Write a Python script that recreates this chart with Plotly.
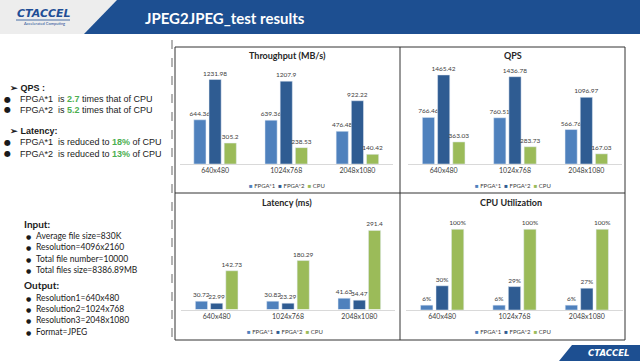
import plotly.graph_objects as go

W, H = 640, 361

categories = ["640x480", "1024x768", "2048x1080"]
series_names = ["FPGA*1", "FPGA*2", "CPU"]
series_colors = ["#4f81bd", "#2f5c92", "#9bbb59"]

throughput_fpga1 = [644.36, 639.36, 476.48]
throughput_fpga2 = [1231.98, 1207.9, 922.22]
throughput_cpu = [305.2, 238.53, 140.42]

qps_fpga1 = [766.46, 760.51, 566.76]
qps_fpga2 = [1465.42, 1436.78, 1096.97]
qps_cpu = [363.03, 283.73, 167.03]

latency_fpga1 = [30.72, 30.82, 41.63]
latency_fpga2 = [22.99, 23.29, 34.47]
latency_cpu = [142.73, 180.29, 291.4]

cpuutil_fpga1 = [6, 6, 6]
cpuutil_fpga2 = [30, 29, 27]
cpuutil_cpu = [100, 100, 100]

chart_titles = ["Throughput (MB/s)", "QPS", "Latency (ms)", "CPU Utilization"]


def X(px):
    return px / W


def Y(py):
    return 1 - py / H


FONT = "Lato"
fig = go.Figure()

charts = [
    ([throughput_fpga1, throughput_fpga2, throughput_cpu], "", "x", "y"),
    ([qps_fpga1, qps_fpga2, qps_cpu], "", "x2", "y2"),
    ([latency_fpga1, latency_fpga2, latency_cpu], "", "x3", "y3"),
    ([cpuutil_fpga1, cpuutil_fpga2, cpuutil_cpu], "%", "x4", "y4"),
]

for data, suffix, xa, ya in charts:
    for name, color, vals in zip(series_names, series_colors, data):
        fig.add_trace(go.Bar(
            x=categories, y=vals, name=name, marker_color=color,
            text=[f"{v}{suffix}" for v in vals], textposition="outside",
            textfont=dict(size=6.5, color="#404040", family=FONT),
            constraintext="none", cliponaxis=False, showlegend=False,
            xaxis=xa, yaxis=ya,
        ))

xdomains = [(179.5, 393), (408, 622), (181, 395), (406, 623)]
ydomains = [(68, 164), (68, 164), (218, 309.5), (218, 310)]
yranges = [[0, 1400], [0, 1580], [0, 337], [0, 114]]

layout_axes = {}
for i in range(4):
    s = "" if i == 0 else str(i + 1)
    layout_axes["xaxis" + s] = dict(
        domain=[X(xdomains[i][0]), X(xdomains[i][1])], anchor="y" + s,
        showline=True, linecolor="#d9d9d9", linewidth=1, ticks="",
        tickfont=dict(size=7, color="#404040", family=FONT),
        showgrid=False, fixedrange=True,
    )
    layout_axes["yaxis" + s] = dict(
        domain=[Y(ydomains[i][1]), Y(ydomains[i][0])], anchor="x" + s,
        range=yranges[i], visible=False, showgrid=False, fixedrange=True,
    )

annotations = []
title_pos = [(287, 56), (513, 56), (287, 203), (511, 203)]
legend_pos = [(287, 185), (513, 185), (285, 331), (513, 331)]
legend_text = "  ".join(
    f"<span style='color:{c}'>■</span> {n}" for n, c in zip(series_names, series_colors)
)
for (tx, ty), (lx, ly), t in zip(title_pos, legend_pos, chart_titles):
    annotations.append(dict(
        x=X(tx), y=Y(ty), xref="paper", yref="paper", text=f"<b>{t}</b>",
        showarrow=False, font=dict(size=9, color="#262626", family=FONT),
        xanchor="center", yanchor="middle",
    ))
    annotations.append(dict(
        x=X(lx), y=Y(ly), xref="paper", yref="paper", text=legend_text,
        showarrow=False, font=dict(size=6, color="#404040", family=FONT),
        xanchor="center", yanchor="middle",
    ))

# header
annotations.append(dict(
    x=X(143), y=Y(18), xref="paper", yref="paper",
    text="<b>JPEG2JPEG_test results</b>", showarrow=False,
    font=dict(size=15, color="white", family=FONT), xanchor="left", yanchor="middle",
))
annotations.append(dict(
    x=X(15), y=Y(14), xref="paper", yref="paper",
    text="<b><i>CTACCEL</i></b>", showarrow=False,
    font=dict(size=11, color="#1f4e96", family="DejaVu Sans"), xanchor="left", yanchor="middle",
))
annotations.append(dict(
    x=X(22), y=Y(23), xref="paper", yref="paper",
    text="Accelerated Computing", showarrow=False,
    font=dict(size=4, color="#1f4e96", family=FONT), xanchor="left", yanchor="middle",
))
annotations.append(dict(
    x=X(608), y=Y(353), xref="paper", yref="paper",
    text="<b><i>CTACCEL</i></b>", showarrow=False,
    font=dict(size=8.5, color="white", family="DejaVu Sans"), xanchor="center", yanchor="middle",
))

GREEN = "#4caf50"
SANS = "Liberation Sans"
left_lines = [
    (8, 88, "<b>➢ QPS :</b>"),
    (18, 99, f"FPGA*1  is <span style='color:{GREEN}'><b>2.7</b></span> times that of CPU"),
    (18, 110, f"FPGA*2  is <span style='color:{GREEN}'><b>5.2</b></span> times that of CPU"),
    (8, 131, "<b>➢ Latency:</b>"),
    (18, 142, f"FPGA*1  is reduced to <span style='color:{GREEN}'><b>18%</b></span> of CPU"),
    (18, 154, f"FPGA*2  is reduced to <span style='color:{GREEN}'><b>13%</b></span> of CPU"),
]
for x, y, t in left_lines:
    annotations.append(dict(
        x=X(x), y=Y(y), xref="paper", yref="paper", text=t, showarrow=False,
        font=dict(size=9, color="#1a1a1a", family=SANS), xanchor="left", yanchor="middle",
    ))
for y in (99, 110, 142, 154):
    annotations.append(dict(
        x=X(2), y=Y(y), xref="paper", yref="paper", text="●", showarrow=False,
        font=dict(size=8, color="#1a1a1a", family="DejaVu Sans"), xanchor="left", yanchor="middle",
    ))

info_heads = [(22, 224, "Input:"), (22, 285, "Output:")]
info_lines = [
    (236, "Average file size=830K"),
    (247, "Resolution=4096x2160"),
    (259, "Total file number=10000"),
    (270, "Total files size=8386.89MB"),
    (298, "Resolution1=640x480"),
    (309, "Resolution2=1024x768"),
    (320, "Resolution3=2048x1080"),
    (332, "Format=JPEG"),
]
for x, y, t in info_heads:
    annotations.append(dict(
        x=X(x), y=Y(y), xref="paper", yref="paper", text=f"<b>{t}</b>", showarrow=False,
        font=dict(size=10, color="#1a1a1a", family=FONT), xanchor="left", yanchor="middle",
    ))
for y, t in info_lines:
    annotations.append(dict(
        x=X(34), y=Y(y), xref="paper", yref="paper", text=t, showarrow=False,
        font=dict(size=8.5, color="#1a1a1a", family=FONT), xanchor="left", yanchor="middle",
    ))
    annotations.append(dict(
        x=X(24), y=Y(y), xref="paper", yref="paper", text="●", showarrow=False,
        font=dict(size=6, color="#1a1a1a", family="DejaVu Sans"), xanchor="left", yanchor="middle",
    ))


def path(points):
    return "M " + " L ".join(f"{X(px):.5f},{Y(py):.5f}" for px, py in points) + " Z"


shapes = [
    dict(type="rect", xref="paper", yref="paper", x0=0, x1=1, y0=Y(34), y1=1,
         fillcolor="#ededed", line=dict(width=0), layer="below"),
    dict(type="path", xref="paper", yref="paper",
         path=path([(117, 0), (640, 0), (640, 34), (84, 34)]),
         fillcolor="#1d4f91", line=dict(width=0), layer="below"),
    dict(type="line", xref="paper", yref="paper", x0=X(16), x1=X(70), y0=Y(20), y1=Y(20),
         line=dict(color="#1f4e96", width=0.8)),
    dict(type="path", xref="paper", yref="paper",
         path=path([(572, 345), (640, 345), (640, 361), (559, 361)]),
         fillcolor="#1d4f91", line=dict(width=0), layer="below"),
    dict(type="line", xref="paper", yref="paper", x0=X(172), x1=X(172), y0=Y(40), y1=Y(340),
         line=dict(color="#9a9a9a", width=1.5, dash="dash")),
    dict(type="rect", xref="paper", yref="paper", x0=X(175), x1=X(625), y0=Y(340), y1=Y(47),
         line=dict(color="#333333", width=1)),
    dict(type="line", xref="paper", yref="paper", x0=X(400), x1=X(400), y0=Y(340), y1=Y(47),
         line=dict(color="#333333", width=1)),
    dict(type="line", xref="paper", yref="paper", x0=X(175), x1=X(625), y0=Y(193), y1=Y(193),
         line=dict(color="#333333", width=1)),
]

fig.update_layout(
    width=W, height=H, autosize=False,
    margin=dict(l=0, r=0, t=0, b=0),
    paper_bgcolor="white", plot_bgcolor="white",
    barmode="group", bargap=0.36, bargroupgap=0.2,
    showlegend=False, hovermode=False,
    annotations=annotations, shapes=shapes,
    **layout_axes,
)

fig.write_html(
    "out.html",
    config={"displayModeBar": False, "staticPlot": True},
    post_script="document.body.style.margin='0';document.body.style.overflow='hidden';",
)
